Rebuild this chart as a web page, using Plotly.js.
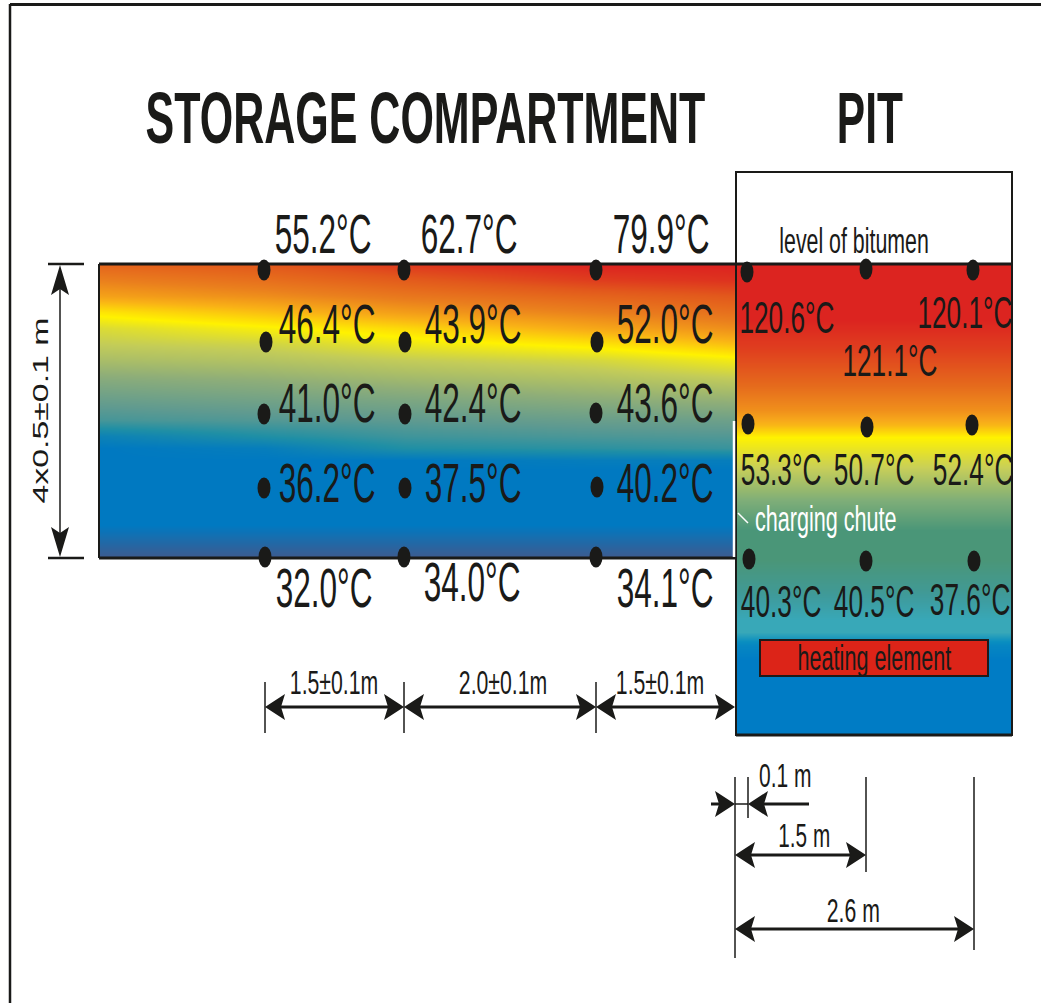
<!DOCTYPE html>
<html><head><meta charset="utf-8">
<script src="https://cdn.plot.ly/plotly-3.0.1.min.js"></script>
<style>html,body{margin:0;padding:0;background:#fff}#c{width:1041px;height:1003px}</style>
</head><body><div id="c"></div>
<script>
var INK = '#1a1a18';
var NARROW = '"Liberation Sans Narrow","Liberation Sans",sans-serif';
var W = 1041, H_PAGE = 1003;

// storage compartment colour field (band index, rows top to bottom, columns left to right)
var storageX = [100, 265, 405, 596, 735];
var storageRows = [264, 280, 296, 312, 328, 344, 360, 380, 400, 420, 436, 448, 460, 470, 525, 558];
var storageBands = [
  [8.7, 9.0, 9.6, 10, 10],
  [8.0, 8.4, 8.9, 9.5, 9.7],
  [7.3, 7.7, 8.2, 8.7, 9.0],
  [6.2, 6.8, 7.4, 8.0, 8.4],
  [5.4, 5.9, 6.4, 7.2, 7.7],
  [5.0, 5.2, 5.7, 6.2, 6.8],
  [4.5, 4.7, 5.0, 5.3, 5.8],
  [3.8, 4.0, 4.3, 4.6, 4.9],
  [3.2, 3.4, 3.6, 3.9, 4.1],
  [2.6, 2.8, 3.0, 3.2, 3.3],
  [1.4, 2.0, 2.5, 2.7, 2.8],
  [1.0, 1.2, 2.0, 2.2, 2.4],
  [1.0, 1.0, 1.0, 1.2, 1.2],
  [1.0, 1.0, 1.0, 1.0, 1.0],
  [1.0, 1.0, 1.0, 1.0, 1.0],
  [0, 0, 0, 0, 0]
];
var storageColors = ['#3f5a8e', '#0079c1', '#1f8fa5', '#5f9a90', '#8fae78', '#c3cc58',
  '#fff200', '#f9b116', '#ea7f1d', '#e2581c', '#dc2220'];

// pit colour field
var pitX = [736, 1012];
var pitRows = [264, 320, 350, 385, 410, 425, 437, 455, 480, 500, 530, 560, 590, 620, 632, 645, 660, 735];
var pitBands = [10, 10, 9.6, 9.0, 8.4, 7.8, 7, 6.4, 5.6, 5, 4, 4, 3.2, 2, 2, 0.6, 0, 0];
var pitColors = ['#007cc5', '#0a8ec0', '#38a8b8', '#3f9a9a', '#4a9678', '#7fae78',
  '#c8cf58', '#fff200', '#f7a81b', '#e56a1c', '#dc2420'];

// temperature probes
var probeX = [264, 404, 596, 266, 405, 597, 264, 405, 596, 264, 405, 597, 265, 404, 596,
              747, 866, 973, 748, 867, 972, 749, 866, 974];
var probeY = [270, 270, 270, 342, 342, 342, 414, 414, 413, 488, 488, 487, 557, 557, 557,
              272, 269, 270, 424, 427, 425, 559, 561, 561];

// storage temperatures and where they are written
var storageTemps = [55.2, 62.7, 79.9, 46.4, 43.9, 52.0, 41.0, 42.4, 43.6, 36.2, 37.5, 40.2, 32.0, 34.0, 34.1];
var storageTempX = [323, 469, 661, 327, 473, 665, 327, 473, 665, 327, 473, 665, 324, 472, 665];
var storageTempY = [233, 233, 233, 323, 323, 323, 402, 402, 402, 482, 482, 482, 587, 581, 587];

// pit temperatures and where they are written
var pitTemps = [120.6, 121.1, 120.1, 53.3, 50.7, 52.4, 40.3, 40.5, 37.6];
var pitTempX = [787, 890, 965, 781, 874, 973, 781, 874, 970];
var pitTempY = [318, 361, 313, 470, 470, 470, 602, 602, 600];

// headings and notes
var noteText = ['STORAGE COMPARTMENT', 'PIT', 'level of bitumen', 'charging chute', 'heating element',
  '1.5±0.1m', '2.0±0.1m', '1.5±0.1m', '0.1 m', '1.5 m', '2.6 m'];
var noteX = [425, 870, 854, 825, 874, 334, 503, 660, 785, 804, 853];
var noteY = [118, 118, 240, 518, 657, 682, 682, 682, 775, 835, 910];
var noteSize = [50, 50, 24, 24, 24, 25, 25, 25, 25, 25, 25];
var noteBold = [true, true, false, false, false, false, false, false, false, false, false];
var noteColor = [INK, INK, INK, '#ffffff', INK, INK, INK, INK, INK, INK, INK];
var noteWide = [0.86, 0.85, 0.89, 0.9, 0.9, 0.85, 0.85, 0.85, 0.84, 0.83, 0.85];
var noteTall = [1.45, 1.45, 1.45, 1.45, 1.45, 1.3, 1.3, 1.3, 1.3, 1.3, 1.3];

// dimension arrows: x0, x1, y
var dimArrows = [[265, 404, 707], [404, 596, 707], [596, 735, 707], [735, 866, 855], [735, 974, 929]];
// thin extension lines: x, y0, y1
var dimTicks = [[265, 682, 733], [404, 682, 733], [596, 682, 733],
  [735, 777, 958], [748, 777, 818], [866, 777, 872], [974, 777, 950]];

function line(x0, y0, x1, y1, w, c) {
  return {type: 'line', xref: 'x3', yref: 'y3', x0: x0, y0: y0, x1: x1, y1: y1,
    line: {color: c || INK, width: w}};
}
function head(tx, ty, dx, dy, L, H, N) {
  // arrow tip at (tx,ty), pointing along (dx,dy)
  L = L || 20; H = H || 13; N = N || 16;
  var nx = -dy, ny = dx;
  var p = [[tx, ty],
    [tx - dx * L + nx * H, ty - dy * L + ny * H],
    [tx - dx * N, ty - dy * N],
    [tx - dx * L - nx * H, ty - dy * L - ny * H]];
  return {type: 'path', xref: 'x3', yref: 'y3', fillcolor: INK, line: {width: 0},
    path: 'M' + p.map(function (q) { return q[0] + ',' + q[1]; }).join('L') + 'Z'};
}

var shapes = [];
// page frame
shapes.push(line(10, 4.5, 1041, 4.5, 3));
shapes.push(line(10, 4, 10, 1003, 2.5));
// pit box and storage outline
shapes.push({type: 'rect', xref: 'x3', yref: 'y3', x0: 736, y0: 172, x1: 1012, y1: 735,
  line: {color: INK, width: 2}});
shapes.push(line(99, 264, 1012, 264, 3));
shapes.push(line(99, 558, 736, 558, 3));
shapes.push(line(99, 264, 99, 558, 2));
shapes.push(line(736, 735, 1012, 735, 3));
// charging chute
shapes.push(line(734, 421, 734, 557, 2.5, '#ffffff'));
shapes.push(line(738, 513, 748, 523, 1.5, '#ffffff'));
// heating element
shapes.push({type: 'rect', xref: 'x3', yref: 'y3', x0: 760, y0: 640, x1: 988, y1: 676,
  fillcolor: '#dc2418', line: {color: '#1f1a1a', width: 2}});
// height dimension
shapes.push(line(48, 264, 84, 264, 2.5));
shapes.push(line(48, 558, 84, 558, 2.5));
shapes.push(line(60, 270, 60, 552, 1.5));
shapes.push(head(60, 265, 0, -1, 30, 9, 24));
shapes.push(head(60, 557, 0, 1, 30, 9, 24));
// horizontal dimensions
dimTicks.forEach(function (t) { shapes.push(line(t[0], t[1], t[0], t[2], 1.5)); });
dimArrows.forEach(function (a) {
  shapes.push(line(a[0] + 10, a[2], a[1] - 10, a[2], 3));
  shapes.push(head(a[0], a[2], -1, 0));
  shapes.push(head(a[1], a[2], 1, 0));
});
// 0.1 m dimension
shapes.push(line(711, 804, 725, 804, 3));
shapes.push(line(735, 804, 748, 804, 1.5));
shapes.push(line(758, 804, 809, 804, 3));
shapes.push(head(735, 804, 1, 0));
shapes.push(head(748, 804, -1, 0));
// probes drawn as tall ovals
probeX.forEach(function (x, i) {
  shapes.push({type: 'circle', xref: 'x3', yref: 'y3', x0: x - 6.5, x1: x + 6.5,
    y0: probeY[i] - 10.5, y1: probeY[i] + 10.5, fillcolor: INK, line: {width: 0}});
});

// text
var annos = [], stretch = [];
function note(text, x, y, size, bold, color, sx, sy) {
  annos.push({text: bold ? '<b>' + text + '</b>' : text, x: x, y: y, xref: 'x3', yref: 'y3',
    xanchor: 'center', yanchor: 'middle', showarrow: false,
    font: {family: NARROW, size: size, color: color}});
  stretch.push([sx, sy]);
}
storageTemps.forEach(function (v, i) {
  note(v.toFixed(1) + '°C', storageTempX[i], storageTempY[i], 38.5, false, INK, 0.82, 1.42);
});
pitTemps.forEach(function (v, i) {
  note(v.toFixed(1) + '°C', pitTempX[i], pitTempY[i], 32, false, INK, 0.82, 1.4);
});
noteText.forEach(function (t, i) {
  note(t, noteX[i], noteY[i], noteSize[i], noteBold[i], noteColor[i], noteWide[i], noteTall[i]);
});
annos.push({text: '4x0.5±0.1 m', x: 40, y: 411, xref: 'x3', yref: 'y3', xanchor: 'center', yanchor: 'middle',
  showarrow: false, textangle: -90,
  font: {family: '"Liberation Sans",sans-serif', size: 22, color: INK}});
stretch.push([1.54, 1]);

function ramp(colors) {
  return colors.map(function (c, i) { return [i / (colors.length - 1), c]; });
}

var traces = [
  {type: 'heatmap', xaxis: 'x', yaxis: 'y', x: storageX, y: storageRows, z: storageBands, zmin: 0, zmax: 10,
   colorscale: ramp(storageColors), zsmooth: 'best', showscale: false, hoverinfo: 'skip'},
  {type: 'heatmap', xaxis: 'x2', yaxis: 'y2', x: pitX, y: pitRows, z: pitBands.map(function (b) { return [b, b]; }), zmin: 0, zmax: 10,
   colorscale: ramp(pitColors), zsmooth: 'best', showscale: false, hoverinfo: 'skip'},
  {type: 'scatter', xaxis: 'x3', yaxis: 'y3', mode: 'markers', x: probeX, y: probeY, showlegend: false, hoverinfo: 'skip',
   marker: {size: 12, color: INK}}
];

function panelX(a, b) { return {domain: [a / W, b / W], range: [a, b], visible: false, fixedrange: true}; }
function panelY(a, b) { return {domain: [1 - b / H_PAGE, 1 - a / H_PAGE], range: [b, a], visible: false, fixedrange: true}; }

var layout = {
  width: W, height: H_PAGE, margin: {l: 0, r: 0, t: 0, b: 0, pad: 0},
  paper_bgcolor: '#ffffff', plot_bgcolor: 'rgba(0,0,0,0)', showlegend: false,
  xaxis: panelX(100, 735), yaxis: panelY(264, 558),
  xaxis2: panelX(736, 1012), yaxis2: panelY(264, 735),
  xaxis3: panelX(0, W), yaxis3: panelY(0, H_PAGE),
  shapes: shapes, annotations: annos
};

Plotly.newPlot('c', traces, layout, {displayModeBar: false, staticPlot: true}).then(function () {
  // the source artwork is stretched, so the lettering is stretched the same way
  document.querySelectorAll('#c .annotation').forEach(function (g) {
    var i = +g.getAttribute('data-index');
    var t = g.querySelector('text.annotation-text');
    if (!t || !stretch[i]) return;
    var b = t.getBBox(), cx = b.x + b.width / 2, cy = b.y + b.height / 2;
    var sx = stretch[i][0], sy = stretch[i][1];
    t.setAttribute('transform', 'matrix(' + sx + ',0,0,' + sy + ',' + cx * (1 - sx) + ',' + cy * (1 - sy) + ')');
  });
});
</script></body></html>
